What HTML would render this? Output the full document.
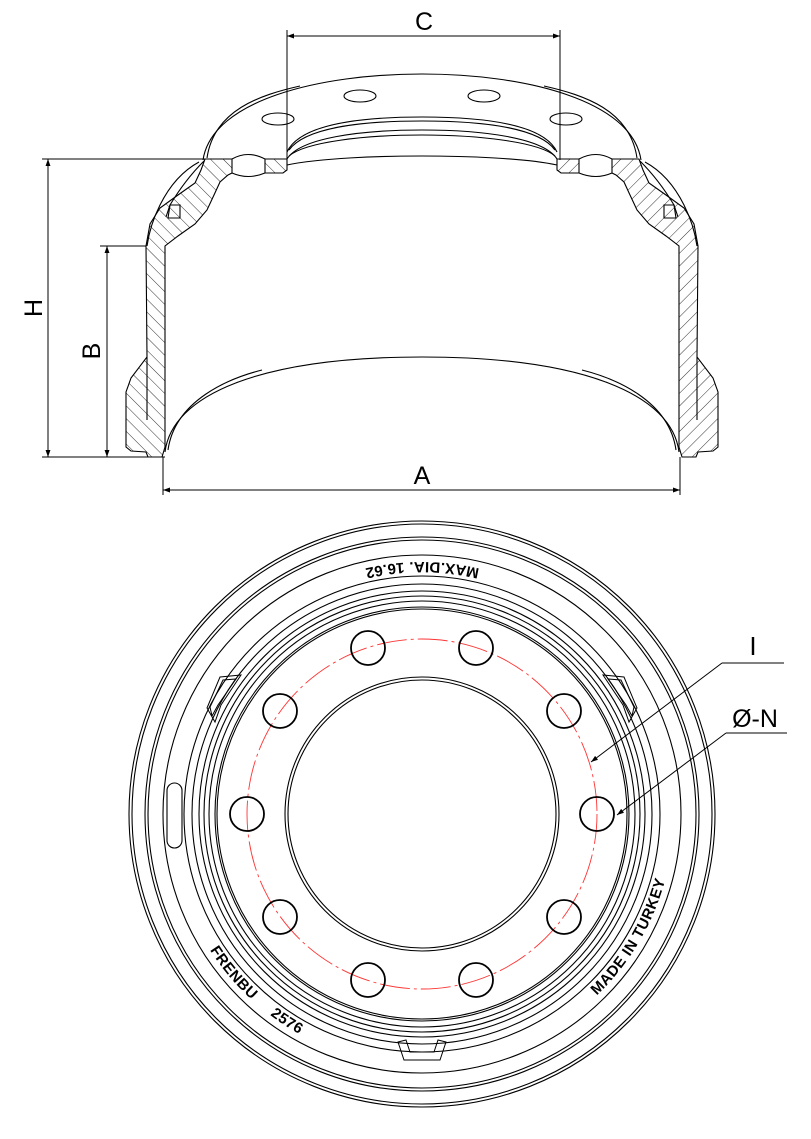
<!DOCTYPE html>
<html><head><meta charset="utf-8"><style>
html,body{margin:0;padding:0;background:#fff;}
svg{display:block;}
text{font-family:"Liberation Sans",sans-serif;}
</style></head><body>
<svg width="811" height="1139" viewBox="0 0 811 1139" xmlns="http://www.w3.org/2000/svg">
<defs>
<pattern id="h" patternUnits="userSpaceOnUse" width="9" height="9" patternTransform="rotate(-45)">
<line x1="0" y1="0" x2="0" y2="9" stroke="#000" stroke-width="0.8"/>
</pattern>
<marker id="ar" viewBox="0 0 10 10" refX="10" refY="5" markerWidth="7" markerHeight="7" orient="auto-start-reverse"><path d="M0,1.5 L10,5 L0,8.5 z" fill="#000"/></marker>
<g id="half" fill="none" stroke="#000" stroke-width="1.1">
  <path d="M146,246 L147,357 L131,378 L126,392 L126,447 L131,451 L146,452 L148,457 L162,457 L165,447 L165,246 L178,236 L195,224 L207,210 L214,195 L220,182 L228,175 L232,173 L232,159 L205,159 L201,170 L195,183 L178,195 L160,208 L150,224 Z" fill="url(#h)"/>
  <path d="M232,159 Q248,150 265,159" fill="none"/>
  <path d="M232,173 Q248,180 265,173"/>
  <path d="M265,159 L287,159 L287,170 L283,173 L265,173 Z" fill="url(#h)"/>
  <path d="M203,160 C212,100 320,74 422,74"/>
  <path d="M207,158 C214,110 260,95 300,86"/>
  <path d="M199,162 Q175,175 160,205 Q150,225 147,246"/>
  <path d="M204,161 Q185,180 170,205 L166,217"/>
  <path d="M170,205 L168,218 L180,218 L180,205 Z"/>
  <path d="M287,159 C300,138 360,130 422,130"/>
  <path d="M289,156 C305,142 365,135 422,135"/>
  <path d="M287,152 C300,124 360,117 422,117"/>
  <path d="M289,150 C305,128 360,121 422,121"/>
  <path d="M287,165 C320,158 380,156 422,156"/>
  <path d="M147,357 L147,420"/>
  <path d="M165,452 C172,395 260,357 422,357"/>
  <path d="M168,450 C175,400 230,378 262,370"/>
  <ellipse cx="360" cy="96" rx="16" ry="6"/>
  <ellipse cx="278" cy="119" rx="16" ry="6"/>
</g>
<path id="tp" d="M674,814 A252,252 0 1,0 170,814 A252,252 0 1,0 674,814"/>
</defs>

<!-- TOP VIEW -->
<use href="#half"/>
<use href="#half" transform="matrix(-1,0,0,1,844,0)"/>

<g stroke="#000" stroke-width="1" fill="none">
  <line x1="287" y1="30" x2="287" y2="160"/>
  <line x1="560" y1="30" x2="560" y2="160"/>
  <line x1="287" y1="36" x2="560" y2="36" marker-start="url(#ar)" marker-end="url(#ar)"/>
  <line x1="42" y1="159" x2="205" y2="159"/>
  <line x1="42" y1="457" x2="165" y2="457"/>
  <line x1="48" y1="159" x2="48" y2="457" marker-start="url(#ar)" marker-end="url(#ar)"/>
  <line x1="100" y1="246" x2="146" y2="246"/>
  <line x1="107" y1="246" x2="107" y2="457" marker-start="url(#ar)" marker-end="url(#ar)"/>
  <line x1="163" y1="457" x2="163" y2="495"/>
  <line x1="680" y1="457" x2="680" y2="495"/>
  <line x1="163" y1="490" x2="680" y2="490" marker-start="url(#ar)" marker-end="url(#ar)"/>
</g>
<text x="424" y="30" font-size="25" text-anchor="middle">C</text>
<text x="422" y="484" font-size="25" text-anchor="middle">A</text>
<text transform="translate(42,308) rotate(-90)" font-size="25" text-anchor="middle">H</text>
<text transform="translate(100,351) rotate(-90)" font-size="25" text-anchor="middle">B</text>

<!-- BOTTOM VIEW -->
<g fill="none" stroke="#000" stroke-width="1.1">
  <circle cx="422" cy="814" r="293"/>
  <circle cx="422" cy="814" r="290"/>
  <circle cx="422" cy="814" r="277"/>
  <circle cx="422" cy="814" r="274"/>
  <circle cx="422" cy="814" r="259"/>
  <circle cx="422" cy="814" r="238"/>
  <circle cx="422" cy="814" r="230"/>
  <circle cx="422" cy="814" r="223"/>
  <circle cx="422" cy="814" r="218"/>
  <circle cx="422" cy="814" r="213"/>
  <circle cx="422" cy="814" r="207"/>
  <circle cx="422" cy="814" r="205"/>
  <circle cx="422" cy="814" r="137"/>
  <circle cx="422" cy="814" r="134"/>
  <circle cx="422" cy="814" r="175" stroke="#f33" stroke-width="0.9" stroke-dasharray="30,4,3,4"/>
  <rect x="167" y="783" width="15" height="65" rx="7.5"/>
</g>
<g fill="none" stroke="#000" stroke-width="1.8">
  <circle cx="597" cy="814" r="17"/>
  <circle cx="564" cy="711" r="17"/>
  <circle cx="476" cy="648" r="17"/>
  <circle cx="368" cy="648" r="17"/>
  <circle cx="280" cy="711" r="17"/>
  <circle cx="247" cy="814" r="17"/>
  <circle cx="280" cy="917" r="17"/>
  <circle cx="368" cy="980" r="17"/>
  <circle cx="476" cy="980" r="17"/>
  <circle cx="564" cy="917" r="17"/>
</g>
<!-- tabs -->
<g fill="none" stroke="#000" stroke-width="1">
  <path d="M220,677 L241,675 L221,705 L215,722 L207,708 Z"/>
  <path d="M223,680 L236,679 L218,705 L212,716 L210,707 Z"/>
  <path d="M624,677 L603,675 L623,705 L629,722 L637,708 Z"/>
  <path d="M621,680 L608,679 L626,705 L632,716 L634,707 Z"/>
  <path d="M398,1042 L404,1060 L440,1060 L446,1042 L438,1040 L434,1052 L410,1052 L406,1040 Z"/>
</g>
<g font-size="15" font-weight="bold" letter-spacing="0.5">
  <text><textPath href="#tp" startOffset="25%" text-anchor="middle">MAX.DIA. 16.62</textPath></text>
  <text><textPath href="#tp" startOffset="63%" text-anchor="middle">FRENBU&#160;&#160;&#160;&#160;&#160;2576</textPath></text>
  <text><textPath href="#tp" startOffset="91.5%" text-anchor="middle">MADE IN TURKEY</textPath></text>
</g>
<!-- leaders -->
<g stroke="#000" stroke-width="1" fill="none">
  <line x1="722" y1="663" x2="784" y2="663"/>
  <line x1="722" y1="663" x2="591" y2="762" marker-end="url(#ar)"/>
  <line x1="726" y1="733" x2="787" y2="733"/>
  <line x1="726" y1="733" x2="617" y2="815" marker-end="url(#ar)"/>
</g>
<text x="753" y="655" font-size="26" text-anchor="middle">I</text>
<text x="755" y="727" font-size="25" text-anchor="middle">Ø-N</text>
</svg>
</body></html>
